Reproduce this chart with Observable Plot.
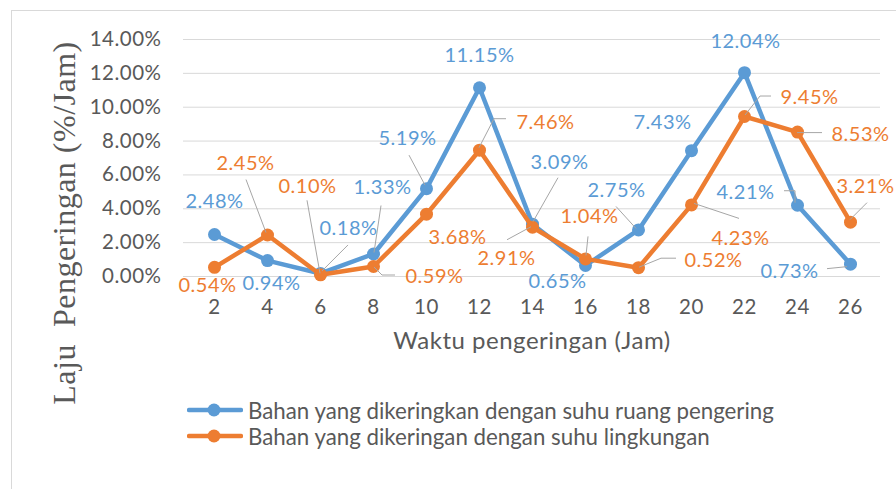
<!DOCTYPE html>
<html>
<head>
<meta charset="utf-8">
<script src="https://cdn.jsdelivr.net/npm/d3@7"></script>
<script src="https://cdn.jsdelivr.net/npm/@observablehq/plot@0.6"></script>
<style>
html,body{margin:0;padding:0;background:#fff;}
#wrap{position:relative;width:896px;height:489px;overflow:hidden;font-family:Lato,sans-serif;background:#fff;}
#frame{position:absolute;left:11px;top:10px;width:900px;height:500px;border-left:1px solid #d9d9d9;border-top:1px solid #d9d9d9;}
#chart{position:absolute;left:0;top:0;}
#legend{position:absolute;left:187px;top:397px;color:#595959;font-size:22.3px;font-family:Lato,sans-serif;}
.row{display:flex;align-items:center;height:26px;}
.row svg{margin-right:5px;}
</style>
</head>
<body>
<div id="wrap"><div id="frame"></div><div id="chart"></div><div id="legend"></div></div>
<script>
// ---- data ----
const hours = [2, 4, 6, 8, 10, 12, 14, 16, 18, 20, 22, 24, 26];
const ruangPengering = [2.48, 0.94, 0.18, 1.33, 5.19, 11.15, 3.09, 0.65, 2.75, 7.43, 12.04, 4.21, 0.73];
const suhuLingkungan = [0.54, 2.45, 0.10, 0.59, 3.68, 7.46, 2.91, 1.04, 0.52, 4.23, 9.45, 8.53, 3.21];
const seriesNames = ["Bahan yang dikeringkan dengan suhu ruang pengering", "Bahan yang dikeringan dengan suhu lingkungan"];
const yTicks = [0, 2, 4, 6, 8, 10, 12, 14];
const xTitle = "Waktu pengeringan (Jam)";
const yTitle = "Laju\u00a0\u00a0Pengeringan (%/Jam)";

// ---- label layout (pixel offsets from each point) ----
const labelOffsetA = [[0,-33],[4,23],[28,-45],[9,-66],[-19,-50],[0,-32],[27,-62],[-28,16],[-22,-39],[-29,-28],[1,-31],[-52,-13],[-61,7]];
const leaderA = [null,null,[[28,-28],[2,-2]],[[8,-48],[1,-1]],[[-17,-33],[-1,-3]],null,[[26,-46],[1,-2]],null,[[-22,-23],[-2,-1]],null,null,[[-13,-14],[-2,-14],[-2,-2]],[[-23,5],[-3,3]]];
const labelOffsetB = [[-7,18],[-22,-71],[-13,-88],[61,10],[31,23],[66,-28],[-26,31],[4,-42],[75,-7],[49,34],[65,-19],[63,2],[15,-36]];
const leaderB = [null,[[-21,-55],[-1,-2]],[[-13,-74],[0,-1]],[[22,9],[9,9],[1,1]],null,[[27,-31],[15,-31],[0,-2]],[[-25,13],[-1,0]],[[3,-22],[1,-3]],[[38,-9],[23,-9],[1,0]],[[48,14],[3,-1]],[[27,-20],[16,-20],[1,-1]],[[25,1],[0,1]],[[17,-19],[0,-2]]];

const colors = ["#5B9BD5", "#ED7D31"];
const fmt = v => v.toFixed(2) + "%";

const dataA = hours.map((h, i) => ({h, v: ruangPengering[i], off: labelOffsetA[i], leader: leaderA[i]}));
const dataB = hours.map((h, i) => ({h, v: suhuLingkungan[i], off: labelOffsetB[i], leader: leaderB[i]}));

function leaderMark(data) {
  return (index, scales) => {
    const g = d3.create("svg:g");
    data.forEach(d => {
      if (!d.leader) return;
      const px = scales.x(d.h), py = scales.y(d.v);
      g.append("polyline")
        .attr("points", d.leader.map(([dx, dy]) => `${px + dx},${py + dy}`).join(" "))
        .attr("fill", "none").attr("stroke", "#a6a6a6").attr("stroke-width", 1);
    });
    return g.node();
  };
}

function labelMarks(data, color) {
  return data.map(d => Plot.text([d], {
    x: "h", y: "v", text: d => fmt(d.v), dx: d.off[0], dy: d.off[1],
    fill: color, fontSize: 20, fontFamily: "Lato"
  }));
}

const chart = Plot.plot({
  width: 896, height: 489,
  marginLeft: 183, marginRight: 16, marginTop: 39, marginBottom: 213,
  style: {fontFamily: "Lato", fontSize: "20.5px", color: "#595959", background: "transparent", letterSpacing: "0.5px"},
  x: {type: "point", domain: hours, padding: 0.5, tickSize: 0, tickPadding: 23, label: null},
  y: {domain: [0, 14], ticks: yTicks, tickFormat: d => d.toFixed(2) + "%", tickSize: 0, tickPadding: 22, label: null},
  marks: [
    Plot.ruleY(yTicks, {stroke: "#d9d9d9", strokeWidth: 1}),
    Plot.line(dataA, {x: "h", y: "v", stroke: colors[0], strokeWidth: 4.5}),
    Plot.dot(dataA, {x: "h", y: "v", r: 6.5, fill: colors[0]}),
    Plot.line(dataB, {x: "h", y: "v", stroke: colors[1], strokeWidth: 4.5}),
    Plot.dot(dataB, {x: "h", y: "v", r: 6.5, fill: colors[1]}),
    leaderMark(dataA),
    leaderMark(dataB),
    ...labelMarks(dataA, colors[0]),
    ...labelMarks(dataB, colors[1]),
    Plot.text([xTitle], {text: d => d, frameAnchor: "bottom", dy: 72, fontSize: 24, fill: "#595959"}),
    Plot.text([yTitle], {text: d => d, frameAnchor: "left", textAnchor: "middle", rotate: -90, dx: -119, dy: 65, fontSize: 32, fontFamily: "Liberation Serif", fill: "#595959", style: "letter-spacing:0"})
  ]
});
document.getElementById("chart").appendChild(chart);

// legend
const legend = d3.select("#legend");
seriesNames.forEach((name, i) => {
  const row = legend.append("div").attr("class", "row");
  const s = row.append("svg").attr("width", 56).attr("height", 16);
  s.append("line").attr("x1", 2).attr("x2", 54).attr("y1", 8).attr("y2", 8)
    .attr("stroke", colors[i]).attr("stroke-width", 4.5).attr("stroke-linecap", "round");
  s.append("circle").attr("cx", 27).attr("cy", 8).attr("r", 6.5).attr("fill", colors[i]);
  row.append("span").text(name);
});
</script>
</body>
</html>
